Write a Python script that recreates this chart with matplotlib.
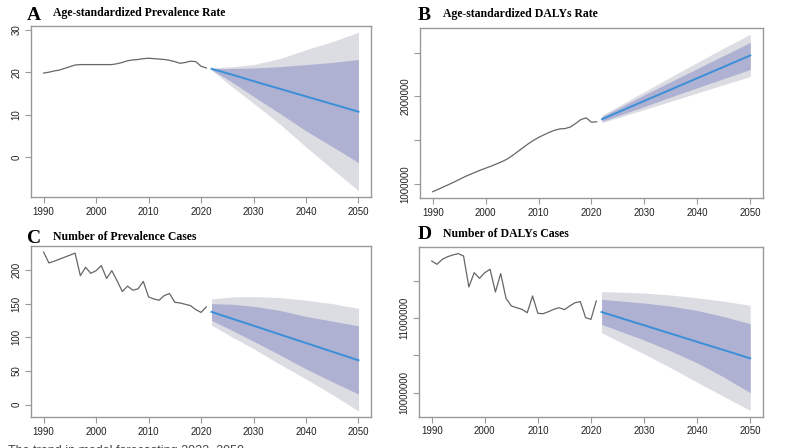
import numpy as np
import matplotlib.pyplot as plt

# historical years and forecast anchor years
years_hist = list(range(1990, 2022))
years_fc = [2022, 2026, 2030, 2035, 2040, 2045, 2050]

# A : age-standardized prevalence rate
a_hist = [19.8, 20.0, 20.3, 20.5, 20.9, 21.3, 21.7, 21.8, 21.8, 21.8, 21.8,
          21.8, 21.8, 21.8, 22.0, 22.3, 22.7, 22.9, 23.0, 23.2, 23.3, 23.2,
          23.1, 23.0, 22.8, 22.5, 22.1, 22.3, 22.6, 22.5, 21.4, 21.0]
a_mean = [20.8, 19.4, 17.9, 16.1, 14.3, 12.5, 10.7]
a_in_hi = [20.8, 20.9, 21.0, 21.3, 21.8, 22.3, 23.0]
a_in_lo = [20.6, 17.6, 14.3, 10.3, 6.2, 2.5, -1.3]
a_out_hi = [21.0, 21.3, 21.8, 23.2, 25.3, 27.2, 29.4]
a_out_lo = [20.5, 16.5, 12.7, 7.8, 2.4, -2.8, -7.9]

# B : age-standardized DALYs rate
b_hist = [908000, 935000, 962000, 990000, 1018000, 1048000, 1078000, 1105000,
          1130000, 1155000, 1178000, 1200000, 1225000, 1250000, 1280000,
          1320000, 1365000, 1410000, 1455000, 1495000, 1530000, 1560000,
          1588000, 1612000, 1628000, 1632000, 1650000, 1690000, 1735000,
          1755000, 1705000, 1710000]
b_mean = [1740000, 1845000, 1950000, 2080000, 2210000, 2340000, 2471000]
b_in_hi = [1770000, 1895000, 2020000, 2170000, 2320000, 2470000, 2620000]
b_in_lo = [1715000, 1800000, 1885000, 1995000, 2100000, 2205000, 2310000]
b_out_hi = [1785000, 1920000, 2055000, 2225000, 2390000, 2555000, 2713000]
b_out_lo = [1700000, 1775000, 1850000, 1945000, 2040000, 2135000, 2230000]

# C : number of prevalence cases
c_hist = [226.6, 210.5, 213, 216, 219, 222, 225, 191.5, 204, 195, 199,
          206.5, 187.4, 199, 184, 168, 176, 170, 172, 183, 160, 157,
          155, 162, 165, 152, 151, 149, 147, 141, 137, 145]
c_mean = [137.7, 127.4, 117.2, 104.3, 91.5, 78.6, 65.8]
c_in_hi = [150, 149, 146, 140, 131, 124, 117]
c_in_lo = [125, 110, 94, 74, 53, 34, 15.6]
c_out_hi = [157, 160, 160.5, 159, 155, 150, 143]
c_out_lo = [118, 100, 83, 60, 38, 15, -9.5]

# D : number of DALYs cases
d_hist = [11763000, 11719000, 11786000, 11821000, 11844000, 11862000,
          11830000, 11415000, 11607000, 11531000, 11607000, 11652000,
          11348000, 11594000, 11263000, 11161000, 11138000, 11116000,
          11071000, 11295000, 11062000, 11058000, 11085000, 11116000,
          11138000, 11112000, 11161000, 11205000, 11219000, 11004000,
          10982000, 11228000]
d_mean = [11080000, 10991000, 10903000, 10792000, 10681000, 10571000, 10460000]
d_in_hi = [11250000, 11225000, 11200000, 11160000, 11100000, 11020000, 10924000]
d_in_lo = [10915000, 10810000, 10705000, 10560000, 10400000, 10210000, 10000000]
d_out_hi = [11353000, 11345000, 11335000, 11308000, 11270000, 11225000, 11170000]
d_out_lo = [10804000, 10660000, 10520000, 10335000, 10140000, 9950000, 9763000]

x_ticks = [1990, 2000, 2010, 2020, 2030, 2040, 2050]

panels = [
    ('A', 'Age-standardized Prevalence Rate', a_hist, a_mean, a_in_hi, a_in_lo, a_out_hi, a_out_lo,
     [0, 10, 20, 30], ['0', '10', '20', '30']),
    ('B', 'Age-standardized DALYs Rate', b_hist, b_mean, b_in_hi, b_in_lo, b_out_hi, b_out_lo,
     [1000000, 1500000, 2000000, 2500000], ['1000000', '', '2000000', '']),
    ('C', 'Number of Prevalence Cases', c_hist, c_mean, c_in_hi, c_in_lo, c_out_hi, c_out_lo,
     [0, 50, 100, 150, 200], ['0', '50', '100', '150', '200']),
    ('D', 'Number of DALYs Cases', d_hist, d_mean, d_in_hi, d_in_lo, d_out_hi, d_out_lo,
     [10000000, 10500000, 11000000, 11500000], ['10000000', '', '11000000', '']),
]

# axes rectangles (left, bottom, width, height)
rects = [
    [0.0393, 0.5603, 0.431, 0.3817],
    [0.5323, 0.5580, 0.4347, 0.3795],
    [0.0393, 0.0685, 0.431, 0.3830],
    [0.5310, 0.0699, 0.4360, 0.3780],
]
# (letter x, letter baseline y, title x, title baseline y) in pixels from top-left
title_pos = [(27, 20.5, 53, 16), (418, 20.5, 443, 16.5),
             (27, 243, 53, 239.5), (418, 239, 443, 236.5)]

frame_col = '#999999'
inner_col = '#aeb1d1'
outer_col = '#dcdce3'
line_col = '#3b8fd9'

fig = plt.figure(figsize=(7.89, 4.48), dpi=100)

for (letter, title, hist, mean, in_hi, in_lo, out_hi, out_lo, yt, ytl), rect, tp in zip(panels, rects, title_pos):
    ax = fig.add_axes(rect)
    ax.fill_between(years_fc, out_lo, out_hi, color=outer_col, linewidth=0)
    ax.fill_between(years_fc, in_lo, in_hi, color=inner_col, linewidth=0)
    ax.plot(years_hist, hist, color='#666666', linewidth=0.9)
    ax.plot(years_fc, mean, color=line_col, linewidth=1.4)
    ax.margins(x=0.04, y=0.04)

    ax.set_xticks(x_ticks)
    ax.set_xticklabels([str(t) for t in x_ticks], fontsize=7, color='#222222',
                       family='Liberation Sans')
    ax.set_yticks(yt)
    ax.set_yticklabels(ytl, fontsize=7, color='#222222', rotation=90, va='center',
                       family='Liberation Sans')
    ax.tick_params(direction='out', length=4, color=frame_col, pad=3)
    for s in ax.spines.values():
        s.set_color(frame_col)
        s.set_linewidth(1.0)

    fig.text(tp[0] / 789, 1 - tp[1] / 448, letter, fontsize=14, fontweight='bold',
             family='Liberation Serif', ha='left', va='baseline')
    fig.text(tp[2] / 789, 1 - tp[3] / 448, title, fontsize=8.5, fontweight='bold',
             family='Liberation Serif', ha='left', va='baseline')

# caption, mostly cut off by the bottom edge as in the source image
fig.text(8 / 789, -0.02, 'The trend in model forecasting 2022\u20132050', fontsize=9,
         color='#444444', family='Liberation Sans', ha='left', va='bottom')

fig.savefig('out.png', dpi=100)
